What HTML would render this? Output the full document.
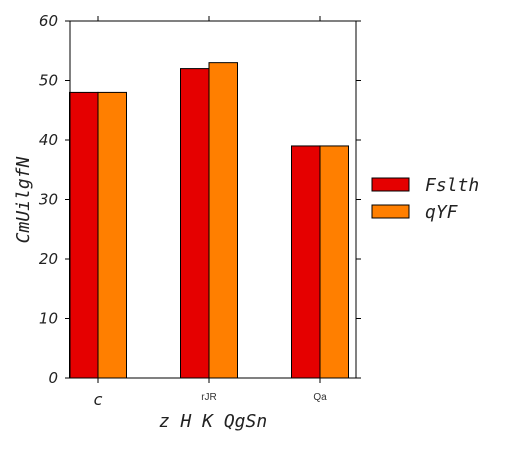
<!DOCTYPE html>
<html><head><meta charset="utf-8"><style>body{margin:0;background:#fff}</style></head><body>
<svg id="c" width="518" height="444" xmlns="http://www.w3.org/2000/svg"></svg>
<script>
const categories=["c","rJR","Qa"];
const seriesA=[48,52,39];
const seriesB=[48,53,39];
const yTicks=[0,10,20,30,40,50,60];
const svg=document.getElementById('c');
const NS='http://www.w3.org/2000/svg';
const L=70,R=356,T=21,B=378;
const y=v=>B-(v/60)*(B-T);
const xc=i=>98+i*111;
const bw=28.5;
function add(tag,at,txt){const e=document.createElementNS(NS,tag);for(const k in at)e.setAttribute(k,at[k]);if(txt!==undefined)e.textContent=txt;svg.appendChild(e);return e;}
categories.forEach((c,i)=>{
 let r=add('rect',{x:xc(i)-bw,y:y(seriesA[i]),width:bw,height:B-y(seriesA[i]),fill:'#e50000',stroke:'#000','stroke-width':1});
 
 
 let o=add('rect',{x:xc(i),y:y(seriesB[i]),width:bw,height:B-y(seriesB[i]),fill:'#ff7f00',stroke:'#000','stroke-width':1});
 
 
 add('line',{x1:xc(i),x2:xc(i),y1:B,y2:B+5,stroke:'#000'});
 add('line',{x1:xc(i),x2:xc(i),y1:T,y2:T-5,stroke:'#000'});
 let t=i==0?add('text',{x:xc(i),y:405,'text-anchor':'middle','font-family':'DejaVu Sans','font-style':'italic','font-size':16,fill:'#222'},c):add('text',{x:xc(i),y:400,'text-anchor':'middle','font-family':'Liberation Sans','font-size':10,fill:'#333'},c);
 
 
});
add('rect',{x:L,y:T,width:R-L,height:B-T,fill:'none',stroke:'#000','stroke-width':1,});
yTicks.forEach(v=>{
 add('line',{x1:L-5,x2:L,y1:y(v),y2:y(v),stroke:'#000'});
 add('line',{x1:R,x2:R+5,y1:y(v),y2:y(v),stroke:'#000'});
 let t=add('text',{x:L-12,y:y(v)+5,'text-anchor':'end','font-family':'DejaVu Sans','font-style':'italic','font-size':15,fill:'#222'},v);
 
 
});
add('text',{x:213,y:427,'text-anchor':'middle','font-family':'DejaVu Sans Mono','font-style':'italic','font-size':18,fill:'#222',},'z H K QgSn');
add('text',{x:0,y:0,transform:'translate(29,200) rotate(-90)','text-anchor':'middle','font-family':'DejaVu Sans Mono','font-style':'italic','font-size':18,fill:'#222',},'CmUilgfN');
add('rect',{x:372,y:178,width:37,height:13,fill:'#e50000',stroke:'#000',});
add('rect',{x:372,y:205,width:37,height:13,fill:'#ff7f00',stroke:'#000',});
add('text',{x:425,y:191,'font-family':'DejaVu Sans Mono','font-style':'italic','font-size':18,fill:'#222',},'Fslth');
add('text',{x:425,y:218,'font-family':'DejaVu Sans Mono','font-style':'italic','font-size':18,fill:'#222',},'qYF');
</script>
</body></html>
